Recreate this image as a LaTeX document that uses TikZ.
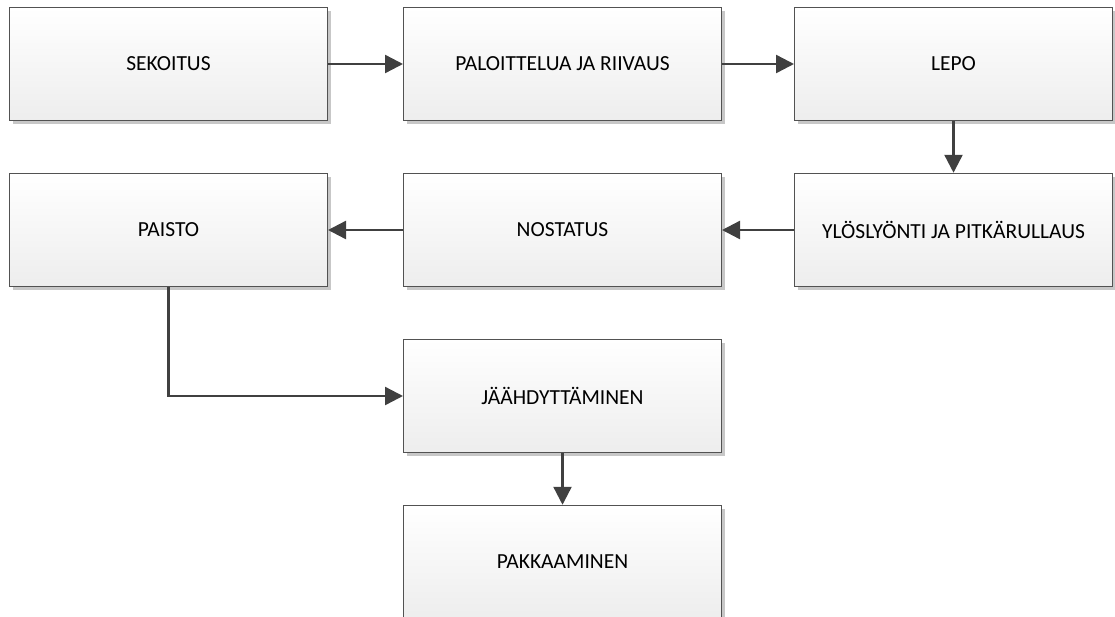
\documentclass[tikz,border=0pt]{standalone}
\usepackage{fontspec}
\setmainfont{Carlito}
\usetikzlibrary{arrows.meta,shadows}
\tikzset{
	stagebox/.style={draw=black!68, line width=1pt, top color=white, bottom color=black!7,
		minimum width=318pt, minimum height=113.5pt, inner sep=0pt,
		font=\fontsize{21.5}{25}\selectfont,
		drop shadow={shadow xshift=3.5pt, shadow yshift=-3.5pt, opacity=1, fill=black!22}},
	flow/.style={draw=black!75, line width=2.4pt, -{Triangle[length=18pt,width=18pt]}}
}

\begin{document}
\begin{tikzpicture}[x=1pt, y=-1pt]
			%%%%% START %%%%%
			
			\useasboundingbox (0, 0) rectangle (1115, 616);
			
			\node[stagebox] (sekoitus) at (168.5, 64) {SEKOITUS};
			\node[stagebox] (paloittelu) at (562.5, 64) {PALOITTELUA JA RIIVAUS};
			\node[stagebox] (lepo) at (953.5, 64) {LEPO};
			
			\node[stagebox] (ylos) at (953.5, 230) {YLÖSLYÖNTI JA PITKÄRULLAUS};
			\node[stagebox] (nostatus) at (562.5, 230) {NOSTATUS};
			\node[stagebox] (paisto) at (168.5, 230) {PAISTO};
			
			\node[stagebox] (jaahdytys) at (562.5, 396) {JÄÄHDYTTÄMINEN};
			\node[stagebox] (pakkaus) at (562.5, 562) {PAKKAAMINEN};
			
			\draw[flow] (sekoitus) -- (paloittelu);
			\draw[flow] (paloittelu) -- (lepo);
			\draw[flow] (lepo) -- (ylos);
			\draw[flow] (ylos) -- (nostatus);
			\draw[flow] (nostatus) -- (paisto);
			\draw[flow] (paisto.south) |- (jaahdytys.west);
			\draw[flow] (jaahdytys) -- (pakkaus);
			
			%%%%% END %%%%%
		\end{tikzpicture}
\end{document}
